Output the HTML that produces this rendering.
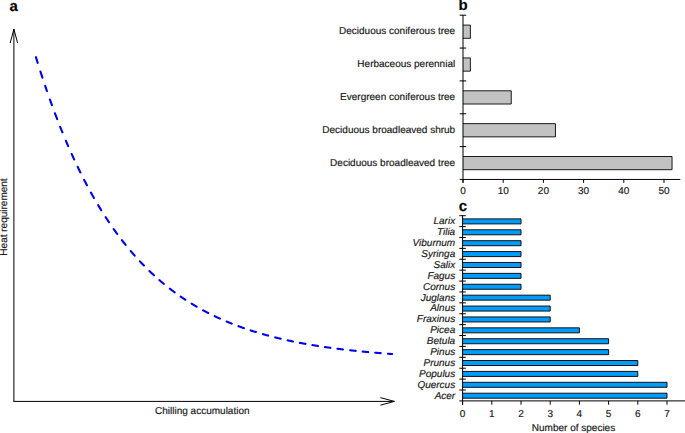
<!DOCTYPE html>
<html><head><meta charset="utf-8"><style>
html,body{margin:0;padding:0;background:#fff;}
body{width:685px;height:433px;overflow:hidden;}
svg{display:block;}
text{font-family:"Liberation Sans",sans-serif;fill:#1a1a1a;text-rendering:geometricPrecision;stroke:#1a1a1a;stroke-width:0.18px;}
.t10{font-size:10px;}
.it{font-style:italic;}
.lbl{font-size:15px;font-weight:bold;fill:#000;}
</style></head><body>
<svg width="685" height="433" viewBox="0 0 685 433">
<text x="9.6" y="10.9" class="lbl">a</text>
<line x1="13.9" y1="29.1" x2="13.9" y2="401.4" stroke="#000" stroke-width="1"/>
<line x1="13.4" y1="401.4" x2="394.4" y2="401.4" stroke="#000" stroke-width="1"/>
<polyline points="10.2,43 13.9,29.1 17.6,43" fill="none" stroke="#000" stroke-width="1"/>
<polyline points="380.4,397.6 394.4,401.4 380.4,405.2" fill="none" stroke="#000" stroke-width="1"/>
<path d="M35.93,57.20 L36.18,58.01 L36.43,58.83 L36.68,59.64 L36.93,60.44 L37.18,61.25 L37.43,62.05 L37.68,62.85 M40.43,71.52 L40.68,72.30 L40.93,73.07 L41.18,73.84 L41.43,74.61 L41.68,75.38 L41.93,76.14 L42.18,76.91 L42.43,77.67 M45.18,85.91 L45.43,86.64 L45.68,87.38 L45.93,88.11 L46.18,88.84 L46.43,89.57 L46.68,90.30 L46.93,91.02 M49.93,99.58 L50.18,100.28 L50.43,100.97 L50.68,101.67 L50.93,102.37 L51.18,103.06 L51.43,103.75 L51.68,104.44 L51.93,105.13 M54.93,113.23 L55.18,113.89 L55.43,114.56 L55.68,115.22 L55.93,115.87 L56.18,116.53 L56.43,117.19 L56.68,117.84 L56.93,118.49 L57.18,119.14 M60.18,126.80 L60.43,127.43 L60.68,128.05 L60.93,128.68 L61.18,129.30 L61.43,129.92 L61.68,130.54 L61.93,131.16 L62.18,131.77 L62.43,132.39 M65.93,140.81 L66.18,141.40 L66.43,141.99 L66.68,142.57 L66.93,143.16 L67.18,143.74 L67.43,144.32 L67.68,144.90 L67.93,145.48 L68.18,146.06 M71.68,153.98 L71.93,154.53 L72.18,155.09 L72.43,155.64 L72.68,156.19 L72.93,156.74 L73.18,157.28 L73.43,157.83 L73.68,158.37 L73.93,158.92 L74.18,159.46 M77.68,166.88 L77.93,167.40 L78.18,167.92 L78.43,168.44 L78.68,168.95 L78.93,169.47 L79.18,169.98 L79.43,170.49 L79.68,171.00 L79.93,171.51 L80.18,172.02 L80.43,172.52 M84.18,179.95 L84.43,180.44 L84.68,180.92 L84.93,181.40 L85.18,181.88 L85.43,182.36 L85.68,182.84 L85.93,183.32 L86.18,183.79 L86.43,184.27 L86.68,184.74 L86.93,185.21 M90.93,192.59 L91.18,193.04 L91.43,193.49 L91.68,193.94 L91.93,194.39 L92.18,194.83 L92.43,195.28 L92.68,195.72 L92.93,196.16 L93.18,196.61 L93.43,197.05 L93.68,197.48 L93.93,197.92 M98.18,205.18 L98.43,205.60 L98.68,206.02 L98.93,206.43 L99.18,206.85 L99.43,207.26 L99.68,207.67 L99.93,208.08 L100.18,208.49 L100.43,208.90 L100.68,209.30 L100.93,209.71 L101.18,210.12 M105.68,217.22 L105.93,217.60 L106.18,217.99 L106.43,218.37 L106.68,218.75 L106.93,219.13 L107.18,219.51 L107.43,219.89 L107.68,220.27 L107.93,220.65 L108.18,221.02 L108.43,221.40 L108.68,221.77 L108.93,222.14 M113.68,229.03 L113.93,229.39 L114.18,229.74 L114.43,230.09 L114.68,230.44 L114.93,230.79 L115.18,231.14 L115.43,231.48 L115.68,231.83 L115.93,232.18 L116.18,232.52 L116.43,232.86 L116.68,233.21 L116.93,233.55 L117.18,233.89 M121.93,240.20 L122.18,240.52 L122.43,240.84 L122.68,241.16 L122.93,241.48 L123.18,241.80 L123.43,242.12 L123.68,242.44 L123.93,242.76 L124.18,243.07 L124.43,243.39 L124.68,243.70 L124.93,244.02 L125.18,244.33 L125.43,244.64 L125.68,244.95 M130.68,251.00 L130.93,251.30 L131.18,251.59 L131.43,251.88 L131.68,252.17 L131.93,252.47 L132.18,252.76 L132.43,253.05 L132.68,253.33 L132.93,253.62 L133.18,253.91 L133.43,254.20 L133.68,254.48 L133.93,254.77 L134.18,255.05 L134.43,255.33 L134.68,255.62 M139.93,261.38 L140.18,261.64 L140.43,261.91 L140.68,262.17 L140.93,262.44 L141.18,262.70 L141.43,262.96 L141.68,263.22 L141.93,263.49 L142.18,263.75 L142.43,264.01 L142.68,264.27 L142.93,264.52 L143.18,264.78 L143.43,265.04 L143.68,265.30 L143.93,265.55 M149.43,271.01 L149.68,271.25 L149.93,271.49 L150.18,271.73 L150.43,271.96 L150.68,272.20 L150.93,272.44 L151.18,272.68 L151.43,272.91 L151.68,273.15 L151.93,273.38 L152.18,273.62 L152.43,273.85 L152.68,274.08 L152.93,274.32 L153.18,274.55 L153.43,274.78 L153.68,275.01 L153.93,275.24 M159.43,280.14 L159.68,280.35 L159.93,280.57 L160.18,280.78 L160.43,281.00 L160.68,281.21 L160.93,281.43 L161.18,281.64 L161.43,281.85 L161.68,282.06 L161.93,282.27 L162.18,282.48 L162.43,282.69 L162.68,282.90 L162.93,283.11 L163.18,283.32 L163.43,283.52 L163.68,283.73 L163.93,283.94 M169.93,288.73 L170.18,288.92 L170.43,289.11 L170.68,289.30 L170.93,289.49 L171.18,289.69 L171.43,289.88 L171.68,290.07 L171.93,290.25 L172.18,290.44 L172.43,290.63 L172.68,290.82 L172.93,291.01 L173.18,291.19 L173.43,291.38 L173.68,291.57 L173.93,291.75 L174.18,291.94 L174.43,292.12 L174.68,292.30 M180.68,296.57 L180.93,296.74 L181.18,296.91 L181.43,297.08 L181.68,297.25 L181.93,297.42 L182.18,297.59 L182.43,297.76 L182.68,297.93 L182.93,298.10 L183.18,298.27 L183.43,298.44 L183.68,298.60 L183.93,298.77 L184.18,298.93 L184.43,299.10 L184.68,299.27 L184.93,299.43 L185.18,299.59 L185.43,299.76 M191.68,303.71 L191.93,303.86 L192.18,304.02 L192.43,304.17 L192.68,304.32 L192.93,304.47 L193.18,304.62 L193.43,304.77 L193.68,304.92 L193.93,305.07 L194.18,305.22 L194.43,305.37 L194.68,305.52 L194.93,305.67 L195.18,305.81 L195.43,305.96 L195.68,306.11 L195.93,306.25 L196.18,306.40 L196.43,306.54 L196.68,306.69 M203.18,310.33 L203.43,310.46 L203.68,310.60 L203.93,310.73 L204.18,310.87 L204.43,311.00 L204.68,311.13 L204.93,311.27 L205.18,311.40 L205.43,311.53 L205.68,311.66 L205.93,311.79 L206.18,311.92 L206.43,312.05 L206.68,312.19 L206.93,312.32 L207.18,312.44 L207.43,312.57 L207.68,312.70 L207.93,312.83 L208.18,312.96 M214.68,316.18 L214.93,316.30 L215.18,316.41 L215.43,316.53 L215.68,316.65 L215.93,316.77 L216.18,316.89 L216.43,317.00 L216.68,317.12 L216.93,317.24 L217.18,317.35 L217.43,317.47 L217.68,317.59 L217.93,317.70 L218.18,317.82 L218.43,317.93 L218.68,318.05 L218.93,318.16 L219.18,318.27 L219.43,318.39 L219.68,318.50 L219.93,318.61 M226.68,321.55 L226.93,321.66 L227.18,321.76 L227.43,321.87 L227.68,321.97 L227.93,322.08 L228.18,322.18 L228.43,322.28 L228.68,322.39 L228.93,322.49 L229.18,322.59 L229.43,322.69 L229.68,322.79 L229.93,322.90 L230.18,323.00 L230.43,323.10 L230.68,323.20 L230.93,323.30 L231.18,323.40 L231.43,323.50 L231.68,323.60 M238.43,326.19 L238.68,326.28 L238.93,326.37 L239.18,326.47 L239.43,326.56 L239.68,326.65 L239.93,326.74 L240.18,326.83 L240.43,326.92 L240.68,327.01 L240.93,327.10 L241.18,327.19 L241.43,327.28 L241.68,327.37 L241.93,327.46 L242.18,327.55 L242.43,327.64 L242.68,327.73 L242.93,327.82 L243.18,327.90 L243.43,327.99 L243.68,328.08 L243.93,328.17 M250.68,330.44 L250.93,330.52 L251.18,330.60 L251.43,330.68 L251.68,330.76 L251.93,330.84 L252.18,330.92 L252.43,331.00 L252.68,331.08 L252.93,331.16 L253.18,331.24 L253.43,331.32 L253.68,331.40 L253.93,331.47 L254.18,331.55 L254.43,331.63 L254.68,331.71 L254.93,331.79 L255.18,331.86 L255.43,331.94 L255.68,332.02 L255.93,332.09 M262.93,334.16 L263.18,334.23 L263.43,334.30 L263.68,334.37 L263.93,334.45 L264.18,334.52 L264.43,334.59 L264.68,334.66 L264.93,334.73 L265.18,334.79 L265.43,334.86 L265.68,334.93 L265.93,335.00 L266.18,335.07 L266.43,335.14 L266.68,335.21 L266.93,335.28 L267.18,335.34 L267.43,335.41 L267.68,335.48 L267.93,335.55 L268.18,335.61 M275.18,337.43 L275.43,337.49 L275.68,337.55 L275.93,337.61 L276.18,337.68 L276.43,337.74 L276.68,337.80 L276.93,337.86 L277.18,337.92 L277.43,337.98 L277.68,338.04 L277.93,338.10 L278.18,338.16 L278.43,338.22 L278.68,338.28 L278.93,338.34 L279.18,338.40 L279.43,338.46 L279.68,338.52 L279.93,338.58 L280.18,338.64 L280.43,338.70 L280.68,338.76 M287.68,340.34 L287.93,340.40 L288.18,340.45 L288.43,340.51 L288.68,340.56 L288.93,340.62 L289.18,340.67 L289.43,340.72 L289.68,340.78 L289.93,340.83 L290.18,340.88 L290.43,340.94 L290.68,340.99 L290.93,341.04 L291.18,341.09 L291.43,341.15 L291.68,341.20 L291.93,341.25 L292.18,341.30 L292.43,341.35 L292.68,341.41 L292.93,341.46 M299.93,342.85 L300.18,342.89 L300.43,342.94 L300.68,342.99 L300.93,343.04 L301.18,343.08 L301.43,343.13 L301.68,343.18 L301.93,343.23 L302.18,343.27 L302.43,343.32 L302.68,343.37 L302.93,343.41 L303.18,343.46 L303.43,343.50 L303.68,343.55 L303.93,343.60 L304.18,343.64 L304.43,343.69 L304.68,343.73 L304.93,343.78 L305.18,343.82 L305.43,343.87 M312.43,345.08 L312.68,345.12 L312.93,345.17 L313.18,345.21 L313.43,345.25 L313.68,345.29 L313.93,345.33 L314.18,345.37 L314.43,345.41 L314.68,345.45 L314.93,345.50 L315.18,345.54 L315.43,345.58 L315.68,345.62 L315.93,345.66 L316.18,345.70 L316.43,345.74 L316.68,345.78 L316.93,345.82 L317.18,345.86 L317.43,345.90 L317.68,345.94 L317.93,345.98 M324.93,347.04 L325.18,347.07 L325.43,347.11 L325.68,347.15 L325.93,347.18 L326.18,347.22 L326.43,347.26 L326.68,347.29 L326.93,347.33 L327.18,347.36 L327.43,347.40 L327.68,347.43 L327.93,347.47 L328.18,347.50 L328.43,347.54 L328.68,347.57 L328.93,347.61 L329.18,347.64 L329.43,347.68 L329.68,347.71 L329.93,347.75 L330.18,347.78 L330.43,347.82 M337.43,348.75 L337.68,348.78 L337.93,348.81 L338.18,348.84 L338.43,348.87 L338.68,348.91 L338.93,348.94 L339.18,348.97 L339.43,349.00 L339.68,349.03 L339.93,349.06 L340.18,349.09 L340.43,349.12 L340.68,349.16 L340.93,349.19 L341.18,349.22 L341.43,349.25 L341.68,349.28 L341.93,349.31 L342.18,349.34 L342.43,349.37 L342.68,349.40 L342.93,349.43 M350.18,350.27 L350.43,350.30 L350.68,350.32 L350.93,350.35 L351.18,350.38 L351.43,350.41 L351.68,350.44 L351.93,350.46 L352.18,350.49 L352.43,350.52 L352.68,350.54 L352.93,350.57 L353.18,350.60 L353.43,350.63 L353.68,350.65 L353.93,350.68 L354.18,350.71 L354.43,350.73 L354.68,350.76 L354.93,350.79 L355.18,350.81 L355.43,350.84 L355.68,350.86 M362.68,351.57 L362.93,351.60 L363.18,351.62 L363.43,351.65 L363.68,351.67 L363.93,351.69 L364.18,351.72 L364.43,351.74 L364.68,351.77 L364.93,351.79 L365.18,351.81 L365.43,351.84 L365.68,351.86 L365.93,351.88 L366.18,351.91 L366.43,351.93 L366.68,351.95 L366.93,351.98 L367.18,352.00 L367.43,352.02 L367.68,352.05 L367.93,352.07 L368.18,352.09 M375.18,352.71 L375.43,352.73 L375.68,352.75 L375.93,352.78 L376.18,352.80 L376.43,352.82 L376.68,352.84 L376.93,352.86 L377.18,352.88 L377.43,352.90 L377.68,352.92 L377.93,352.94 L378.18,352.96 L378.43,352.98 L378.68,353.00 L378.93,353.02 L379.18,353.05 L379.43,353.07 L379.68,353.09 L379.93,353.11 L380.18,353.13 L380.43,353.15 L380.68,353.17 M387.93,353.73 L388.18,353.75 L388.43,353.76 L388.68,353.78 L388.93,353.80 L389.18,353.82 L389.43,353.84 L389.68,353.86 L389.93,353.87 L390.18,353.89 L390.43,353.91 L390.68,353.93 L390.93,353.95 L391.18,353.96 L391.43,353.98 L391.68,354.00 L391.93,354.02 L392.18,354.04" fill="none" stroke="#0000f0" stroke-width="2.1" stroke-linecap="round"/>
<text x="7" y="217" class="t10" text-anchor="middle" transform="rotate(-90 7 217)">Heat requirement</text>
<text x="202.3" y="413.8" class="t10" text-anchor="middle">Chilling accumulation</text>
<text x="458.6" y="10.4" class="lbl">b</text>
<rect x="463.0" y="25.10" width="7.36" height="13.2" fill="#c2c2c2"/>
<path d="M463.0,25.10 H470.36 V38.30 H463.0" fill="none" stroke="#1a1a1a" stroke-width="1"/>
<text x="455.2" y="34.23" class="t10" text-anchor="end">Deciduous coniferous tree</text>
<rect x="463.0" y="57.95" width="7.36" height="13.2" fill="#c2c2c2"/>
<path d="M463.0,57.95 H470.36 V71.15 H463.0" fill="none" stroke="#1a1a1a" stroke-width="1"/>
<text x="455.2" y="67.07" class="t10" text-anchor="end">Herbaceous perennial</text>
<rect x="463.0" y="90.80" width="48.24" height="13.2" fill="#c2c2c2"/>
<path d="M463.0,90.80 H511.24 V104.00 H463.0" fill="none" stroke="#1a1a1a" stroke-width="1"/>
<text x="455.2" y="99.92" class="t10" text-anchor="end">Evergreen coniferous tree</text>
<rect x="463.0" y="123.65" width="92.46" height="13.2" fill="#c2c2c2"/>
<path d="M463.0,123.65 H555.46 V136.85 H463.0" fill="none" stroke="#1a1a1a" stroke-width="1"/>
<text x="455.2" y="132.78" class="t10" text-anchor="end">Deciduous broadleaved shrub</text>
<rect x="463.0" y="156.50" width="209.04" height="13.2" fill="#c2c2c2"/>
<path d="M463.0,156.50 H672.04 V169.70 H463.0" fill="none" stroke="#1a1a1a" stroke-width="1"/>
<text x="455.2" y="165.62" class="t10" text-anchor="end">Deciduous broadleaved tree</text>
<line x1="459.7" y1="15.20" x2="466.2" y2="15.20" stroke="#000" stroke-width="1"/>
<line x1="459.7" y1="48.05" x2="466.2" y2="48.05" stroke="#000" stroke-width="1"/>
<line x1="459.7" y1="80.90" x2="466.2" y2="80.90" stroke="#000" stroke-width="1"/>
<line x1="459.7" y1="113.75" x2="466.2" y2="113.75" stroke="#000" stroke-width="1"/>
<line x1="459.7" y1="146.60" x2="466.2" y2="146.60" stroke="#000" stroke-width="1"/>
<line x1="463.0" y1="15.2" x2="463.0" y2="182.85" stroke="#000" stroke-width="1"/>
<line x1="459.7" y1="179.45" x2="680.3" y2="179.45" stroke="#000" stroke-width="1"/>
<line x1="463.00" y1="179.45" x2="463.00" y2="182.85" stroke="#000" stroke-width="1"/>
<text x="463.00" y="193.8" class="t10" text-anchor="middle">0</text>
<line x1="503.20" y1="179.45" x2="503.20" y2="182.85" stroke="#000" stroke-width="1"/>
<text x="503.20" y="193.8" class="t10" text-anchor="middle">10</text>
<line x1="543.40" y1="179.45" x2="543.40" y2="182.85" stroke="#000" stroke-width="1"/>
<text x="543.40" y="193.8" class="t10" text-anchor="middle">20</text>
<line x1="583.60" y1="179.45" x2="583.60" y2="182.85" stroke="#000" stroke-width="1"/>
<text x="583.60" y="193.8" class="t10" text-anchor="middle">30</text>
<line x1="623.80" y1="179.45" x2="623.80" y2="182.85" stroke="#000" stroke-width="1"/>
<text x="623.80" y="193.8" class="t10" text-anchor="middle">40</text>
<line x1="664.00" y1="179.45" x2="664.00" y2="182.85" stroke="#000" stroke-width="1"/>
<text x="664.00" y="193.8" class="t10" text-anchor="middle">50</text>
<text x="458.8" y="210.9" class="lbl">c</text>
<rect x="462.6" y="218.90" width="58.40" height="5.0" fill="#009cfc"/>
<path d="M462.6,218.90 H521.00 V223.90 H462.6" fill="none" stroke="#111" stroke-width="1"/>
<text x="455.2" y="224.25" class="t10 it" text-anchor="end">Larix</text>
<rect x="462.6" y="229.79" width="58.40" height="5.0" fill="#009cfc"/>
<path d="M462.6,229.79 H521.00 V234.79 H462.6" fill="none" stroke="#111" stroke-width="1"/>
<text x="455.2" y="235.14" class="t10 it" text-anchor="end">Tilia</text>
<rect x="462.6" y="240.69" width="58.40" height="5.0" fill="#009cfc"/>
<path d="M462.6,240.69 H521.00 V245.69 H462.6" fill="none" stroke="#111" stroke-width="1"/>
<text x="455.2" y="246.04" class="t10 it" text-anchor="end">Viburnum</text>
<rect x="462.6" y="251.58" width="58.40" height="5.0" fill="#009cfc"/>
<path d="M462.6,251.58 H521.00 V256.58 H462.6" fill="none" stroke="#111" stroke-width="1"/>
<text x="455.2" y="256.93" class="t10 it" text-anchor="end">Syringa</text>
<rect x="462.6" y="262.48" width="58.40" height="5.0" fill="#009cfc"/>
<path d="M462.6,262.48 H521.00 V267.48 H462.6" fill="none" stroke="#111" stroke-width="1"/>
<text x="455.2" y="267.82" class="t10 it" text-anchor="end">Salix</text>
<rect x="462.6" y="273.37" width="58.40" height="5.0" fill="#009cfc"/>
<path d="M462.6,273.37 H521.00 V278.37 H462.6" fill="none" stroke="#111" stroke-width="1"/>
<text x="455.2" y="278.72" class="t10 it" text-anchor="end">Fagus</text>
<rect x="462.6" y="284.26" width="58.40" height="5.0" fill="#009cfc"/>
<path d="M462.6,284.26 H521.00 V289.26 H462.6" fill="none" stroke="#111" stroke-width="1"/>
<text x="455.2" y="289.61" class="t10 it" text-anchor="end">Cornus</text>
<rect x="462.6" y="295.16" width="87.60" height="5.0" fill="#009cfc"/>
<path d="M462.6,295.16 H550.20 V300.16 H462.6" fill="none" stroke="#111" stroke-width="1"/>
<text x="455.2" y="300.51" class="t10 it" text-anchor="end">Juglans</text>
<rect x="462.6" y="306.05" width="87.60" height="5.0" fill="#009cfc"/>
<path d="M462.6,306.05 H550.20 V311.05 H462.6" fill="none" stroke="#111" stroke-width="1"/>
<text x="455.2" y="311.40" class="t10 it" text-anchor="end">Alnus</text>
<rect x="462.6" y="316.95" width="87.60" height="5.0" fill="#009cfc"/>
<path d="M462.6,316.95 H550.20 V321.95 H462.6" fill="none" stroke="#111" stroke-width="1"/>
<text x="455.2" y="322.29" class="t10 it" text-anchor="end">Fraxinus</text>
<rect x="462.6" y="327.84" width="116.80" height="5.0" fill="#009cfc"/>
<path d="M462.6,327.84 H579.40 V332.84 H462.6" fill="none" stroke="#111" stroke-width="1"/>
<text x="455.2" y="333.19" class="t10 it" text-anchor="end">Picea</text>
<rect x="462.6" y="338.74" width="146.00" height="5.0" fill="#009cfc"/>
<path d="M462.6,338.74 H608.60 V343.74 H462.6" fill="none" stroke="#111" stroke-width="1"/>
<text x="455.2" y="344.08" class="t10 it" text-anchor="end">Betula</text>
<rect x="462.6" y="349.63" width="146.00" height="5.0" fill="#009cfc"/>
<path d="M462.6,349.63 H608.60 V354.63 H462.6" fill="none" stroke="#111" stroke-width="1"/>
<text x="455.2" y="354.98" class="t10 it" text-anchor="end">Pinus</text>
<rect x="462.6" y="360.52" width="175.20" height="5.0" fill="#009cfc"/>
<path d="M462.6,360.52 H637.80 V365.52 H462.6" fill="none" stroke="#111" stroke-width="1"/>
<text x="455.2" y="365.87" class="t10 it" text-anchor="end">Prunus</text>
<rect x="462.6" y="371.42" width="175.20" height="5.0" fill="#009cfc"/>
<path d="M462.6,371.42 H637.80 V376.42 H462.6" fill="none" stroke="#111" stroke-width="1"/>
<text x="455.2" y="376.76" class="t10 it" text-anchor="end">Populus</text>
<rect x="462.6" y="382.31" width="204.40" height="5.0" fill="#009cfc"/>
<path d="M462.6,382.31 H667.00 V387.31 H462.6" fill="none" stroke="#111" stroke-width="1"/>
<text x="455.2" y="387.66" class="t10 it" text-anchor="end">Quercus</text>
<rect x="462.6" y="393.21" width="204.40" height="5.0" fill="#009cfc"/>
<path d="M462.6,393.21 H667.00 V398.21 H462.6" fill="none" stroke="#111" stroke-width="1"/>
<text x="455.2" y="398.55" class="t10 it" text-anchor="end">Acer</text>
<line x1="459.3" y1="215.70" x2="465.8" y2="215.70" stroke="#000" stroke-width="1"/>
<line x1="459.3" y1="226.59" x2="465.8" y2="226.59" stroke="#000" stroke-width="1"/>
<line x1="459.3" y1="237.49" x2="465.8" y2="237.49" stroke="#000" stroke-width="1"/>
<line x1="459.3" y1="248.38" x2="465.8" y2="248.38" stroke="#000" stroke-width="1"/>
<line x1="459.3" y1="259.28" x2="465.8" y2="259.28" stroke="#000" stroke-width="1"/>
<line x1="459.3" y1="270.17" x2="465.8" y2="270.17" stroke="#000" stroke-width="1"/>
<line x1="459.3" y1="281.06" x2="465.8" y2="281.06" stroke="#000" stroke-width="1"/>
<line x1="459.3" y1="291.96" x2="465.8" y2="291.96" stroke="#000" stroke-width="1"/>
<line x1="459.3" y1="302.85" x2="465.8" y2="302.85" stroke="#000" stroke-width="1"/>
<line x1="459.3" y1="313.75" x2="465.8" y2="313.75" stroke="#000" stroke-width="1"/>
<line x1="459.3" y1="324.64" x2="465.8" y2="324.64" stroke="#000" stroke-width="1"/>
<line x1="459.3" y1="335.54" x2="465.8" y2="335.54" stroke="#000" stroke-width="1"/>
<line x1="459.3" y1="346.43" x2="465.8" y2="346.43" stroke="#000" stroke-width="1"/>
<line x1="459.3" y1="357.32" x2="465.8" y2="357.32" stroke="#000" stroke-width="1"/>
<line x1="459.3" y1="368.22" x2="465.8" y2="368.22" stroke="#000" stroke-width="1"/>
<line x1="459.3" y1="379.11" x2="465.8" y2="379.11" stroke="#000" stroke-width="1"/>
<line x1="459.3" y1="390.01" x2="465.8" y2="390.01" stroke="#000" stroke-width="1"/>
<line x1="462.6" y1="215.7" x2="462.6" y2="404.7" stroke="#000" stroke-width="1"/>
<line x1="459.3" y1="400.9" x2="685.5" y2="400.9" stroke="#000" stroke-width="1"/>
<line x1="462.60" y1="400.9" x2="462.60" y2="404.7" stroke="#000" stroke-width="1"/>
<text x="462.60" y="416.6" class="t10" text-anchor="middle">0</text>
<line x1="491.80" y1="400.9" x2="491.80" y2="404.7" stroke="#000" stroke-width="1"/>
<text x="491.80" y="416.6" class="t10" text-anchor="middle">1</text>
<line x1="521.00" y1="400.9" x2="521.00" y2="404.7" stroke="#000" stroke-width="1"/>
<text x="521.00" y="416.6" class="t10" text-anchor="middle">2</text>
<line x1="550.20" y1="400.9" x2="550.20" y2="404.7" stroke="#000" stroke-width="1"/>
<text x="550.20" y="416.6" class="t10" text-anchor="middle">3</text>
<line x1="579.40" y1="400.9" x2="579.40" y2="404.7" stroke="#000" stroke-width="1"/>
<text x="579.40" y="416.6" class="t10" text-anchor="middle">4</text>
<line x1="608.60" y1="400.9" x2="608.60" y2="404.7" stroke="#000" stroke-width="1"/>
<text x="608.60" y="416.6" class="t10" text-anchor="middle">5</text>
<line x1="637.80" y1="400.9" x2="637.80" y2="404.7" stroke="#000" stroke-width="1"/>
<text x="637.80" y="416.6" class="t10" text-anchor="middle">6</text>
<line x1="667.00" y1="400.9" x2="667.00" y2="404.7" stroke="#000" stroke-width="1"/>
<text x="667.00" y="416.6" class="t10" text-anchor="middle">7</text>
<text x="573.5" y="430.7" class="t10" text-anchor="middle">Number of species</text>
</svg>
</body></html>
